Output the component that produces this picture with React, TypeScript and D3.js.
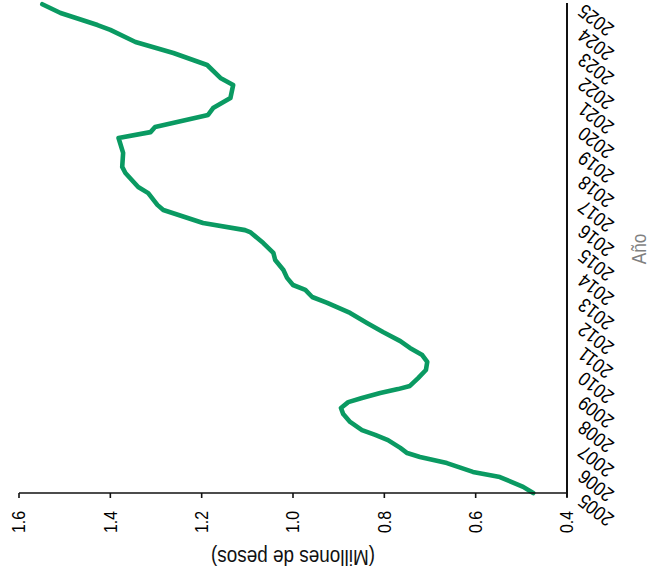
import React from "react";
import * as d3 from "d3";

const yearTicks = [2005, 2006, 2007, 2008, 2009, 2010, 2011, 2012, 2013, 2014, 2015, 2016, 2017, 2018, 2019, 2020, 2021, 2022, 2023, 2024, 2025];
const valueTicks = [1.6, 1.4, 1.2, 1.0, 0.8, 0.6, 0.4];

const dates = [
  2005.0, 2005.25, 2005.65, 2005.86, 2006.22, 2006.47, 2006.63, 2006.84, 2007.16, 2007.37,
  2007.57, 2007.9, 2008.22, 2008.47, 2008.71, 2008.88, 2009.08, 2009.24, 2009.37, 2009.69,
  2010.02, 2010.35, 2010.63, 2010.92, 2011.2, 2011.57, 2011.94, 2012.35, 2012.76, 2013.0,
  2013.29, 2013.49, 2013.78, 2014.1, 2014.51, 2014.8, 2015.2, 2015.65, 2015.73, 2016.02,
  2016.55, 2016.76, 2017.24, 2017.49, 2018.06, 2018.31, 2018.88, 2019.49, 2019.73, 2019.94,
  2020.43, 2020.71, 2021.12, 2021.65, 2021.94, 2022.47, 2022.96, 2023.41, 2023.9, 2024.1,
  2024.59, 2024.95,
];
const values = [
  0.474, 0.496, 0.547, 0.606, 0.663, 0.722, 0.75, 0.765, 0.792, 0.82,
  0.849, 0.875, 0.89, 0.895, 0.879, 0.849, 0.809, 0.77, 0.744, 0.726,
  0.709, 0.706, 0.717, 0.744, 0.765, 0.803, 0.838, 0.875, 0.925, 0.958,
  0.973, 1.0, 1.013, 1.021, 1.039, 1.043, 1.065, 1.094, 1.105, 1.197,
  1.284, 1.297, 1.317, 1.339, 1.367, 1.374, 1.372, 1.382, 1.312, 1.302,
  1.186, 1.175, 1.137, 1.131, 1.159, 1.188, 1.262, 1.345, 1.4, 1.428,
  1.509, 1.549,
];

const valueTitle = "(Millones de pesos)";
const yearTitle = "Año";

const FONT = "'Liberation Sans', Arial, sans-serif";
const CX = 0.86; // horizontal condensing of glyphs

export default function App() {
  const left = 19, right = 567, top = 3, bottom = 493;
  const vScale = d3.scaleLinear().domain([1.6, 0.4]).range([left, right]);
  const yScale = d3.scaleLinear().domain([2005, 2025]).range([bottom, top]);
  const data = dates.map((d, i) => ({ d, v: values[i] }));
  const line = d3.line<{ d: number; v: number }>()
    .x((p) => vScale(p.v))
    .y((p) => yScale(p.d));

  return (
    <svg width={647} height={579} style={{ position: "absolute", left: 0, top: 0, background: "#fff" }} fontFamily={FONT}>
      <path d={line(data) || ""} fill="none" stroke="#0a9a62" strokeWidth={4.6} strokeLinejoin="round" strokeLinecap="round" />
      {/* value axis */}
      <line x1={left} x2={right} y1={bottom} y2={bottom} stroke="#111" strokeWidth={1.6} />
      {valueTicks.map((t) => (
        <g key={t} transform={`translate(${vScale(t)},0)`}>
          <line y1={bottom} y2={bottom + 5} stroke="#111" strokeWidth={1.6} />
          <text transform={`translate(0,${bottom + 18}) rotate(-90) scale(${CX},1)`} textAnchor="end" dy="0.35em" fontSize={18.5} fill="#000">
            {t.toFixed(1)}
          </text>
        </g>
      ))}
      {/* year axis */}
      <line x1={right} x2={right} y1={top} y2={bottom + 4} stroke="#111" strokeWidth={2} />
      {yearTicks.map((t) => (
        <text key={t} transform={`translate(${right + 18},${yScale(t)}) rotate(-142) scale(${CX},1)`} textAnchor="end" fontSize={20} fill="#000">
          {t}
        </text>
      ))}
      <text transform={`translate(${(left + right) / 2},558) rotate(180) scale(${CX},1)`} textAnchor="middle" dy="0.35em" fontSize={22} fill="#111">
        {valueTitle}
      </text>
      <text transform={`translate(639,249) rotate(-90) scale(${CX},1)`} textAnchor="middle" dy="0.35em" fontSize={20} fill="#7f7f7f">
        {yearTitle}
      </text>
    </svg>
  );
}
